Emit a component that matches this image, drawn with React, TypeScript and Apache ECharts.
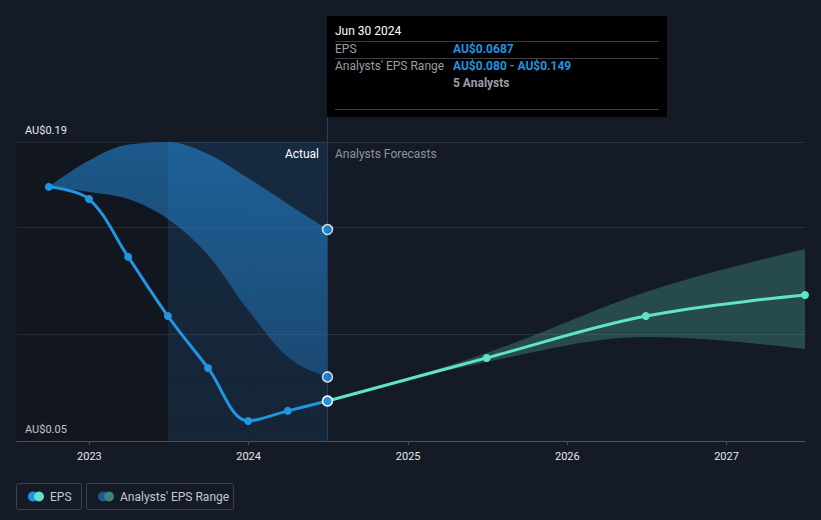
import React, { useEffect, useRef } from "react";
import * as echarts from "echarts";

const epsDates = ["2022-09-30", "2022-12-31", "2023-03-31", "2023-06-30", "2023-09-30", "2023-12-31", "2024-03-31", "2024-06-30"];
const epsValues = [0.169, 0.1633, 0.1362, 0.1085, 0.0842, 0.0594, 0.0641, 0.0687];
const pastRangeHigh = [0.169, 0.1813, 0.1888, 0.19, 0.1844, 0.1731, 0.161, 0.149];
const pastRangeLow = [0.169, 0.1666, 0.1633, 0.154, 0.1371, 0.1113, 0.0893, 0.08];

const fcDates = ["2024-06-30", "2025-06-30", "2026-06-30", "2027-06-30"];
const fcValues = [0.0687, 0.0889, 0.1085, 0.1184];
const fcHigh = [0.0687, 0.0912, 0.1198, 0.1399];
const fcLow = [0.0687, 0.087, 0.0987, 0.0931];

const analystCount = 5;
const yTicks = [0.05, 0.1, 0.15, 0.19];
const xMin = "2022-07-19";
const xMax = "2027-06-30";
const pastYearStart = "2023-06-30";

const BLUE = "#2394df";
const TEAL = "#5fe3c9";
const BG = "#151b26";
const FONT = "Roboto, 'Noto Sans', sans-serif";

const months = ["Jan", "Feb", "Mar", "Apr", "May", "Jun", "Jul", "Aug", "Sep", "Oct", "Nov", "Dec"];
function fmtDate(s: string) {
  const [y, m, d] = s.split("-");
  return `${months[parseInt(m, 10) - 1]} ${parseInt(d, 10)} ${y}`;
}
const ts = (s: string) => new Date(s + "T00:00:00Z").getTime();

// monotone-x cubic segments (as in d3.curveMonotoneX)
type Pt = number[];
function monoSegments(p: Pt[]) {
  const n = p.length;
  const t: number[] = new Array(n).fill(0);
  const sign = (v: number) => (v < 0 ? -1 : 1);
  for (let i = 1; i < n - 1; i++) {
    const h0 = p[i][0] - p[i - 1][0], h1 = p[i + 1][0] - p[i][0];
    const s0 = (p[i][1] - p[i - 1][1]) / h0, s1 = (p[i + 1][1] - p[i][1]) / h1;
    const q = (s0 * h1 + s1 * h0) / (h0 + h1);
    t[i] = (sign(s0) + sign(s1)) * Math.min(Math.abs(s0), Math.abs(s1), 0.5 * Math.abs(q)) || 0;
  }
  if (n > 2) {
    const h = p[1][0] - p[0][0];
    t[0] = (3 * (p[1][1] - p[0][1]) / h - t[1]) / 2;
    const h2 = p[n - 1][0] - p[n - 2][0];
    t[n - 1] = (3 * (p[n - 1][1] - p[n - 2][1]) / h2 - t[n - 2]) / 2;
  } else {
    const s = (p[1][1] - p[0][1]) / (p[1][0] - p[0][0]);
    t[0] = s; t[1] = s;
  }
  const segs: number[][] = [];
  for (let i = 0; i < n - 1; i++) {
    const dx = (p[i + 1][0] - p[i][0]) / 3;
    segs.push([p[i][0], p[i][1], p[i][0] + dx, p[i][1] + dx * t[i], p[i + 1][0] - dx, p[i + 1][1] - dx * t[i + 1], p[i + 1][0], p[i + 1][1]]);
  }
  return segs;
}
function bandPath(up: Pt[], lo: Pt[]) {
  const su = monoSegments(up);
  const sl = monoSegments(lo);
  let d = `M${up[0][0]},${up[0][1]}`;
  for (const s of su) d += `C${s[2]},${s[3]} ${s[4]},${s[5]} ${s[6]},${s[7]}`;
  d += `L${lo[lo.length - 1][0]},${lo[lo.length - 1][1]}`;
  for (let i = sl.length - 1; i >= 0; i--) {
    const s = sl[i];
    d += `C${s[4]},${s[5]} ${s[2]},${s[3]} ${s[0]},${s[1]}`;
  }
  return d + "Z";
}

export default function App() {
  const ref = useRef<HTMLDivElement>(null);
  useEffect(() => {
    if (!ref.current) return;
    const chart = echarts.init(ref.current, null, { renderer: "svg" });
    const last = epsDates.length - 1;

    const bandSeries = (name: string, dates: string[], hi: number[], lo: number[], fill: any) => ({
      name,
      type: "custom",
      coordinateSystem: "cartesian2d",
      silent: true,
      z: 2,
      data: [[ts(dates[0]), lo[0]]],
      renderItem: (_params: any, api: any) => {
        const up = dates.map((d, i) => api.coord([ts(d), hi[i]]));
        const dn = dates.map((d, i) => api.coord([ts(d), lo[i]]));
        return { type: "path", shape: { pathData: bandPath(up, dn) }, style: { fill } };
      },
    });

    const option: any = {
      animation: false,
      backgroundColor: BG,
      textStyle: { fontFamily: FONT },
      grid: { left: 17, right: 16, top: 142, bottom: 79, containLabel: false },
      xAxis: {
        type: "time",
        min: ts(xMin),
        max: ts(xMax),
        minInterval: 365 * 24 * 3600 * 1000,
        maxInterval: 366 * 24 * 3600 * 1000,
        axisLine: { show: true, lineStyle: { color: "#4b515b", width: 1 } },
        axisTick: { show: true, length: 4, lineStyle: { color: "#4b515b" } },
        axisLabel: {
          color: "#e4e6ea",
          fontSize: 11,
          margin: 10,
          showMinLabel: false,
          showMaxLabel: false,
          formatter: (v: number) => String(new Date(v).getFullYear()),
        },
        splitLine: { show: false },
      },
      yAxis: {
        type: "value",
        min: yTicks[0],
        max: yTicks[yTicks.length - 1],
        interval: 0.05,
        axisLine: { show: false },
        axisTick: { show: false },
        splitLine: { show: true, lineStyle: { color: "#2b313c", width: 1 } },
        axisLabel: {
          inside: true,
          margin: 8,
          color: "#e4e6ea",
          fontSize: 11,
          verticalAlign: "bottom",
          padding: [0, 0, 6, 0],
          formatter: (v: number) =>
            Math.abs(v - yTicks[0]) < 1e-9 || Math.abs(v - yTicks[yTicks.length - 1]) < 1e-9 ? "AU$" + v.toFixed(2) : "",
        },
      },
      series: [
        {
          name: "regions",
          type: "line",
          symbol: "none",
          silent: true,
          lineStyle: { opacity: 0 },
          data: epsDates.map((d, i) => [ts(d), epsValues[i]]),
          z: 1,
          markArea: {
            silent: true,
            data: [
              [{ xAxis: ts(xMin), itemStyle: { color: "rgba(0,0,0,0.16)" } }, { xAxis: ts(pastYearStart) }],
              [
                {
                  xAxis: ts(pastYearStart),
                  itemStyle: {
                    color: {
                      type: "linear", x: 0, y: 0, x2: 0, y2: 1,
                      colorStops: [
                        { offset: 0, color: "rgba(25,95,160,0.22)" },
                        { offset: 1, color: "rgba(25,95,160,0.14)" },
                      ],
                    },
                  },
                },
                { xAxis: ts(epsDates[last]) },
              ],
            ],
          },
          markLine: {
            silent: true,
            symbol: "none",
            label: { show: false },
            lineStyle: { color: "#23415f", width: 1, type: "solid" },
            data: [{ xAxis: ts(epsDates[last]) }],
          },
        },
        bandSeries("pastRange", epsDates, pastRangeHigh, pastRangeLow, new echarts.graphic.LinearGradient(0, 0, 0, 1, [
          { offset: 0, color: "rgba(35,130,205,0.62)" },
          { offset: 1, color: "rgba(35,130,205,0.38)" },
        ])),
        bandSeries("fcRange", fcDates, fcHigh, fcLow, "rgba(90,205,185,0.27)"),
        {
          name: "EPS",
          type: "line",
          smooth: 0.35,
          symbol: "circle",
          symbolSize: 8,
          lineStyle: { color: BLUE, width: 3 },
          itemStyle: { color: BLUE },
          data: epsDates.map((d, i) =>
            i === last
              ? { value: [ts(d), epsValues[i]], symbolSize: 10, itemStyle: { color: BLUE, borderColor: "#ffffff", borderWidth: 1.5 } }
              : [ts(d), epsValues[i]]
          ),
          z: 5,
        },
        {
          name: "Forecast",
          type: "line",
          smooth: 0.35,
          symbol: "circle",
          symbolSize: 8,
          lineStyle: { color: TEAL, width: 3 },
          itemStyle: { color: TEAL },
          data: fcDates.map((d, i) => (i === 0 ? { value: [ts(d), fcValues[i]], symbol: "none" } : [ts(d), fcValues[i]])),
          z: 4,
        },
        {
          name: "rangeEnds",
          type: "scatter",
          symbolSize: 10,
          itemStyle: { color: BLUE, borderColor: "#ffffff", borderWidth: 1.5 },
          data: [
            [ts(epsDates[last]), pastRangeHigh[last]],
            [ts(epsDates[last]), pastRangeLow[last]],
          ],
          z: 6,
        },
      ],
    };
    chart.setOption(option);

    const lx = Math.round(chart.convertToPixel({ xAxisIndex: 0 }, ts(epsDates[last])) as number);
    const gridTop = chart.convertToPixel({ yAxisIndex: 0 }, yTicks[yTicks.length - 1]) as number;
    const boxX = lx;
    const boxY = 16;
    const boxW = 340;
    const boxH = 101;
    const tx = boxX + 8;
    const vx = boxX + 126;
    const sep = "#3b3f46";
    const legendY = 483;

    chart.setOption({
      graphic: [
        { type: "line", shape: { x1: lx + 0.5, y1: boxY + boxH, x2: lx + 0.5, y2: gridTop }, style: { stroke: "#23415f", lineWidth: 1 }, z: 10 },
        { type: "rect", shape: { x: boxX, y: boxY, width: boxW, height: boxH }, style: { fill: "#000000" }, z: 20 },
        { type: "text", x: tx, y: 31, style: { text: fmtDate(epsDates[last]), fill: "#ffffff", font: `12px ${FONT}`, verticalAlign: "middle" }, z: 21 },
        { type: "line", shape: { x1: tx, y1: 41.5, x2: boxX + boxW - 8, y2: 41.5 }, style: { stroke: sep, lineWidth: 1 }, z: 21 },
        { type: "text", x: tx, y: 49, style: { text: "EPS", fill: "#9a9ea6", font: `12px ${FONT}`, verticalAlign: "middle" }, z: 21 },
        { type: "text", x: vx, y: 49, style: { text: "AU$" + epsValues[last].toFixed(4), fill: BLUE, font: `bold 12px ${FONT}`, verticalAlign: "middle" }, z: 21 },
        { type: "line", shape: { x1: tx, y1: 58.5, x2: boxX + boxW - 8, y2: 58.5 }, style: { stroke: sep, lineWidth: 1 }, z: 21 },
        { type: "text", x: tx, y: 66, style: { text: "Analysts' EPS Range", fill: "#9a9ea6", font: `12px ${FONT}`, verticalAlign: "middle" }, z: 21 },
        {
          type: "text", x: vx, y: 66,
          style: { text: "AU$" + pastRangeLow[last].toFixed(3) + " - AU$" + pastRangeHigh[last].toFixed(3), fill: BLUE, font: `bold 12px ${FONT}`, verticalAlign: "middle" },
          z: 21,
        },
        { type: "text", x: vx, y: 83, style: { text: analystCount + " Analysts", fill: "#9a9ea6", font: `bold 12px ${FONT}`, verticalAlign: "middle" }, z: 21 },
        { type: "line", shape: { x1: tx, y1: 109.5, x2: boxX + boxW - 8, y2: 109.5 }, style: { stroke: sep, lineWidth: 1 }, z: 21 },

        { type: "text", x: lx - 8, y: 154, style: { text: "Actual", fill: "#ffffff", font: `12px ${FONT}`, align: "right", verticalAlign: "middle" }, z: 10 },
        { type: "text", x: lx + 8, y: 154, style: { text: "Analysts Forecasts", fill: "#8d929a", font: `12px ${FONT}`, align: "left", verticalAlign: "middle" }, z: 10 },

        { type: "rect", shape: { x: 16.5, y: legendY + 0.5, width: 65, height: 26, r: 2 }, style: { fill: "none", stroke: "#3c414b", lineWidth: 1 }, z: 10 },
        { type: "circle", shape: { cx: 33, cy: legendY + 13.5, r: 5 }, style: { fill: BLUE }, z: 11 },
        { type: "circle", shape: { cx: 39, cy: legendY + 13.5, r: 5 }, style: { fill: TEAL }, z: 12 },
        { type: "text", x: 50, y: legendY + 13.5, style: { text: "EPS", fill: "#c4c8ce", font: `12px ${FONT}`, verticalAlign: "middle" }, z: 11 },
        { type: "rect", shape: { x: 86.5, y: legendY + 0.5, width: 147, height: 26, r: 2 }, style: { fill: "none", stroke: "#3c414b", lineWidth: 1 }, z: 10 },
        { type: "circle", shape: { cx: 103, cy: legendY + 13.5, r: 5 }, style: { fill: "#1f5b88" }, z: 11 },
        { type: "circle", shape: { cx: 109, cy: legendY + 13.5, r: 5 }, style: { fill: "#3b837b" }, z: 12 },
        { type: "text", x: 120, y: legendY + 13.5, style: { text: "Analysts' EPS Range", fill: "#c4c8ce", font: `12px ${FONT}`, verticalAlign: "middle" }, z: 11 },
      ],
    });

    return () => chart.dispose();
  }, []);
  return <div ref={ref} style={{ position: "absolute", left: 0, top: 0, width: 821, height: 520 }} />;
}
